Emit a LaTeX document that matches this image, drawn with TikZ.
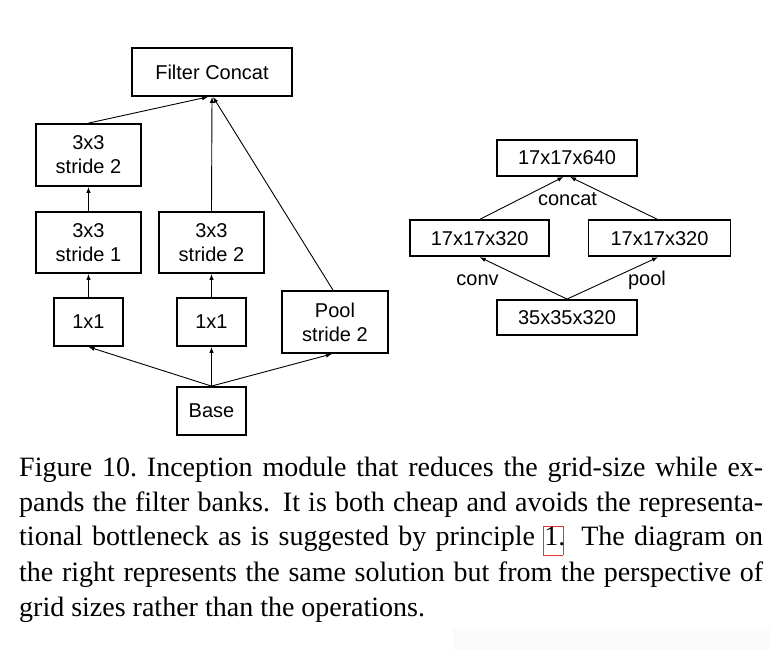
\documentclass[tikz,border=0pt]{standalone}
\usepackage{fontspec}
\setmainfont{Liberation Serif}
\newfontfamily\diafont{Liberation Sans}
\usetikzlibrary{arrows.meta}
\definecolor{linkred}{rgb}{0.9,0.2,0.2}
\newcommand\lnk[1]{\makebox[0pt][l]{\hspace*{-1pt}\raisebox{-9pt}{\textcolor{linkred}{\setlength{\fboxrule}{0.8pt}\setlength{\fboxsep}{0pt}\fbox{\rule{0pt}{28.4pt}\hspace*{18.4pt}}}}}#1}
\tikzset{
  blk/.style={draw, line width=1.8pt, inner sep=0pt, align=center,
    font=\diafont\fontsize{20}{24}\selectfont},
  rblk/.style={blk, font=\diafont\fontsize{20}{24}\selectfont},
  arr/.style={line width=0.9pt, -{Latex[length=6pt,width=4.5pt]}},
  lbl/.style={inner sep=0pt, anchor=base, font=\diafont\fontsize{20}{24}\selectfont},
  capline/.style={inner sep=0pt, anchor=base west, font=\fontsize{28}{34.8}\selectfont}
}
\begin{document}
\begin{tikzpicture}[x=1pt,y=-1pt]
\useasboundingbox (0,0) rectangle (780,660);
\fill[white] (0,0) rectangle (780,660);
\fill[black!1.5] (453,628) rectangle (770,650);
% left diagram
\node[blk, minimum width=160pt, minimum height=48pt] (FC) at (212,72) {Filter Concat};
\node[blk, minimum width=105pt, minimum height=62pt] (L3) at (88.5,155) {3x3\\stride 2};
\node[blk, minimum width=105pt, minimum height=61pt] (L2) at (88.5,242.5) {3x3\\stride 1};
\node[blk, minimum width=105pt, minimum height=61pt] (M2) at (211.5,242.5) {3x3\\stride 2};
\node[blk, minimum width=69pt, minimum height=48pt] (L1) at (88.5,322) {1x1};
\node[blk, minimum width=69pt, minimum height=48pt] (M1) at (211.5,322) {1x1};
\node[blk, minimum width=106pt, minimum height=62pt] (P) at (335,322) {Pool\\stride 2};
\node[blk, minimum width=69pt, minimum height=48pt] (B) at (211.5,411) {Base};
\draw[arr] (B.north) -- (L1.south);
\draw[arr] (B.north) -- (M1.south);
\draw[arr] (B.north) -- ([xshift=-3pt]P.south);
\draw[arr] (L1.north) -- (L2.south);
\draw[arr] (L2.north) -- (L3.south);
\draw[arr] (M1.north) -- (M2.south);
\draw[arr] (M2.north) -- (FC.south);
\draw[arr] (L3.north) -- ([xshift=-4pt]FC.south);
\draw[arr] ([xshift=-2pt]P.north) -- ([xshift=1pt]FC.south);
% right diagram
\node[rblk, minimum width=140pt, minimum height=36pt] (R3) at (567,158) {17x17x640};
\node[rblk, minimum width=139pt, minimum height=36pt] (RL) at (479.7,238.3) {17x17x320};
\node[rblk, minimum width=142pt, minimum height=36pt] (RR) at (659.5,238.3) {17x17x320};
\node[rblk, minimum width=140pt, minimum height=35pt] (RB) at (567,317.5) {35x35x320};
\draw[arr] (RB.north) -- (RL.south);
\draw[arr] (RB.north) -- ([xshift=-1.5pt]RR.south);
\draw[arr] (RL.north) -- ([xshift=-3.5pt]R3.south);
\draw[arr] ([xshift=-2pt]RR.north) -- ([xshift=3pt]R3.south);
\node[lbl] (lc) at (567.5,206) {concat};
\node[lbl] (lv) at (477.5,286) {conv};
\node[lbl] (lp) at (647,286) {pool};
% caption
\node[capline] (c1) at (19,477) {\makebox[744pt][s]{Figure 10.\ Inception module that reduces the grid-size while ex-}};
\node[capline] (c2) at (19,511.5) {\makebox[744pt][s]{pands the filter banks. It is both cheap and avoids the representa-}};
\node[capline] (c3) at (19,546) {\makebox[744pt][s]{tional bottleneck as is suggested by principle \lnk{1}. The diagram on}};
\node[capline] (c4) at (19,581.5) {\makebox[744pt][s]{the right represents the same solution but from the perspective of}};
\node[capline] (c5) at (19,616.5) {grid sizes rather than the operations.};
\end{tikzpicture}
\end{document}
